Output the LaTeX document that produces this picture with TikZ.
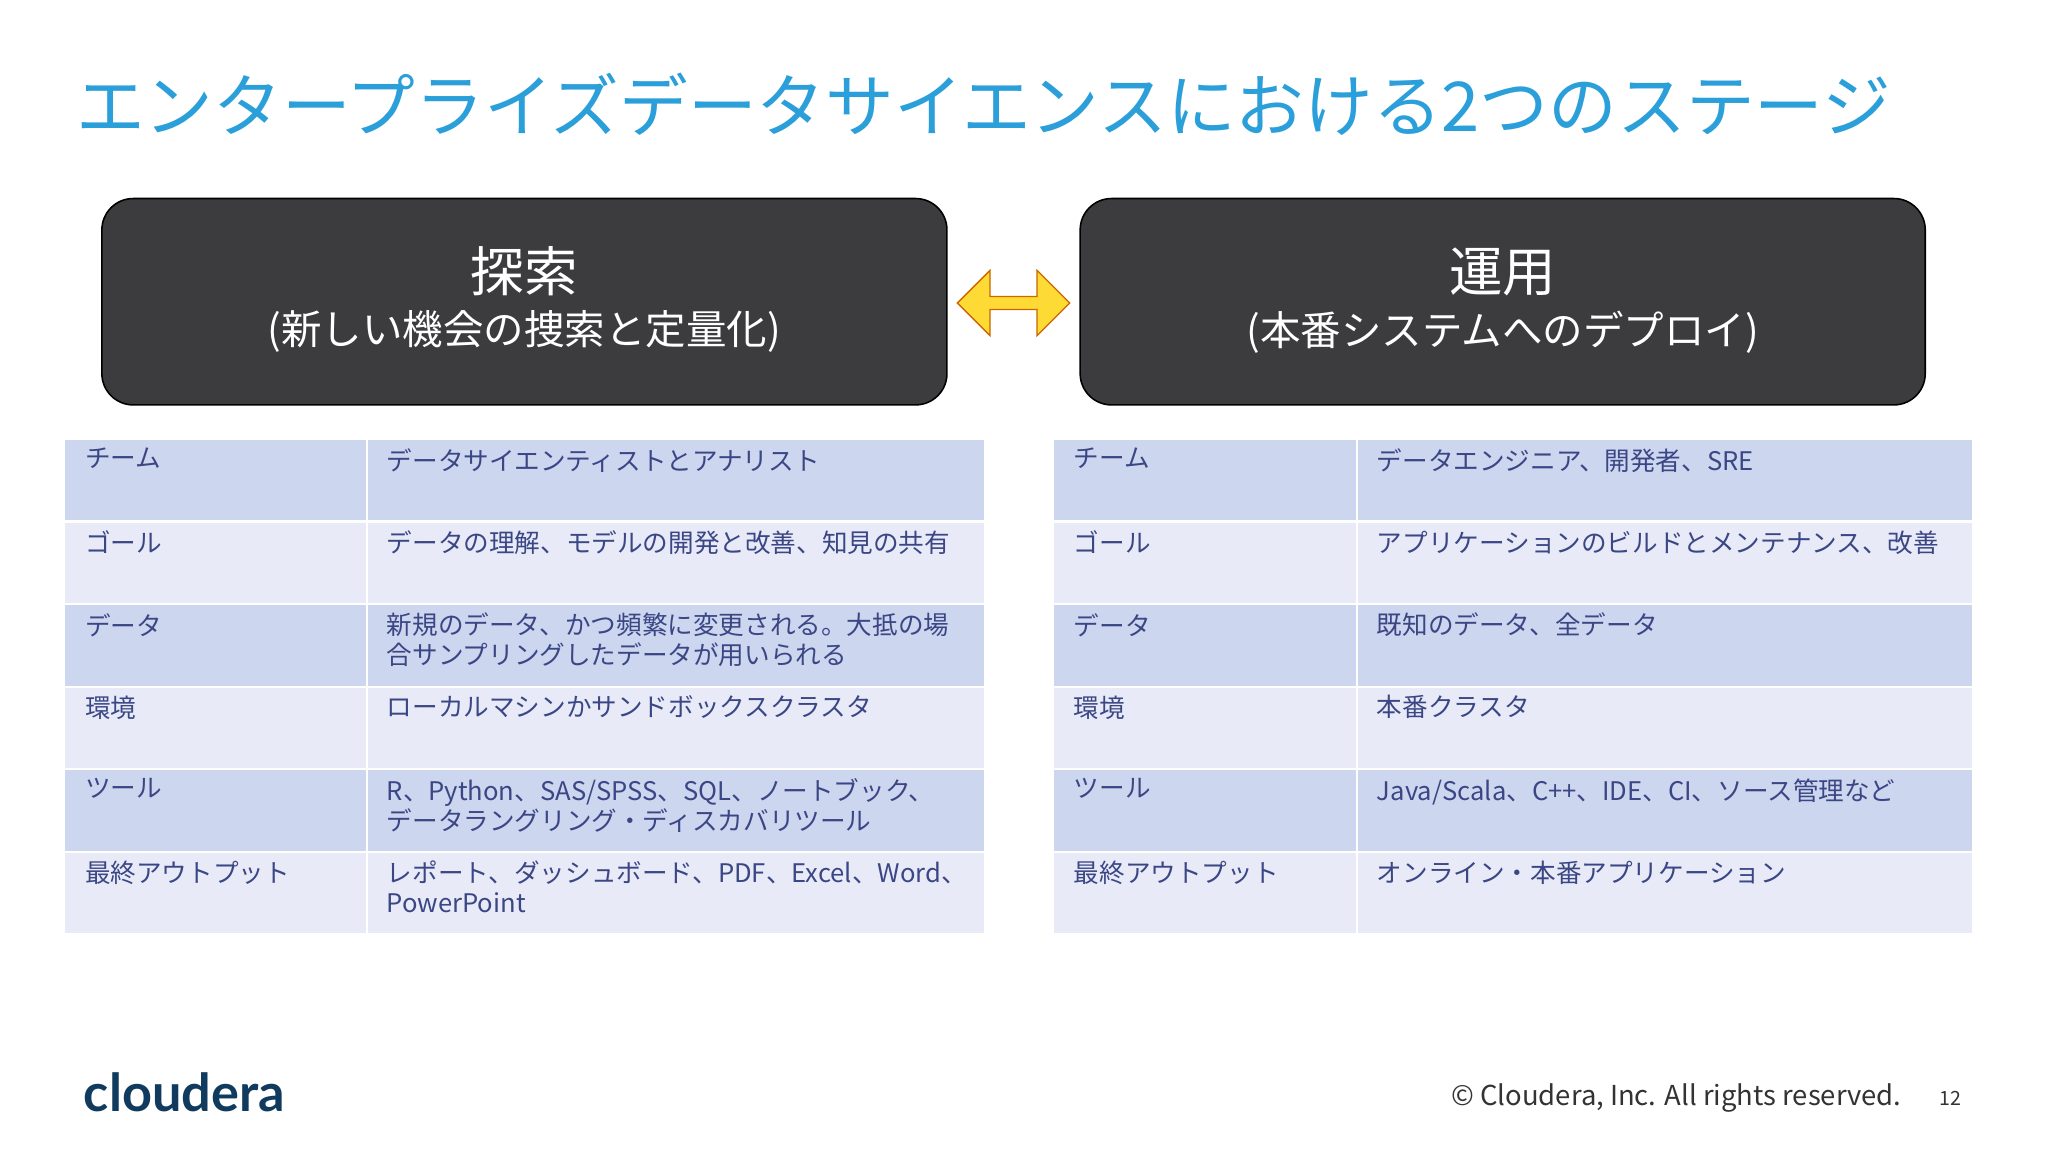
\documentclass[tikz,border=0pt]{standalone}
\usepackage{fontspec}
\setmainfont{Noto Sans CJK JP}
\newfontfamily\latf{Lato}
\usetikzlibrary{shapes.arrows}
\definecolor{ttl}{HTML}{2B9FD9}
\definecolor{dk}{HTML}{3C3B3E}
\definecolor{rowA}{HTML}{CDD6EF}
\definecolor{rowB}{HTML}{E8EBF7}
\definecolor{celltx}{HTML}{3B4785}
\definecolor{logo}{HTML}{113B5E}
\begin{document}
\begin{tikzpicture}[x=1pt,y=-1pt,
  stagebox/.style={draw=black,line width=1.2pt,fill=dk,rounded corners=24pt},
  celltext/.style={anchor=north west,text=celltx,font=\fontsize{19.6}{23}\selectfont,align=left,inner sep=0pt}]
\useasboundingbox (0,0) rectangle (1568,882);
\fill[white] (0,0) rectangle (1568,882);
\node[anchor=west,text=ttl,font=\fontsize{52.6}{58}\selectfont,inner sep=0pt] (title) at (58,80) {エンタープライズデータサイエンスにおける2つのステージ};
\draw[stagebox] (78,152) rectangle (725,310);
\draw[stagebox] (827,152) rectangle (1474,310);
\node[text=white,font=\fontsize{41}{44}\selectfont] (l1) at (401.5,208) {探索};
\node[text=white,font=\fontsize{31}{34}\selectfont] (l2) at (401.5,254) {(新しい機会の捜索と定量化)};
\node[text=white,font=\fontsize{41}{44}\selectfont] (r1) at (1150.5,208) {運用};
\node[text=white,font=\fontsize{31}{34}\selectfont] (r2) at (1150.5,254) {(本番システムへのデプロイ)};
\node[double arrow,draw=orange!80!black,fill=yellow!70!orange!80,line width=1pt,minimum width=50pt,double arrow head extend=2pt,minimum height=86pt,inner sep=0pt] (arr) at (776,232) {};
\foreach \tx/\dx/\tab in {50/280/L,807/1038/R}{
  \foreach \i in {0,...,5}{
    \pgfmathsetmacro{\ya}{337+63.2*\i}
    \pgfmathsetmacro{\yb}{\ya+61.5}
    \pgfmathtruncatemacro{\ev}{mod(\i,2)}
    \ifnum\ev=0 \def\cc{rowA}\else\def\cc{rowB}\fi
    \fill[\cc] (\tx,\ya) rectangle (\dx,\yb);
    \fill[\cc] (\dx+2,\ya) rectangle (\tx+703,\yb);
  }
}
\foreach \tx/\dx/\tab in {50/280/L,807/1038/R}{
  \foreach \t [count=\i from 0] in {チーム,ゴール,データ,環境,ツール,最終アウトプット}{
    \node[celltext] (\tab k\i) at (\tx+15,343+63.2*\i) {\t};
  }
}
\node[celltext] (Lv0) at (296,343) {データサイエンティストとアナリスト};
\node[celltext] (Lv1) at (296,406) {データの理解、モデルの開発と改善、知見の共有};
\node[celltext] (Lv2) at (296,469) {新規のデータ、かつ頻繁に変更される。大抵の場\\合サンプリングしたデータが用いられる};
\node[celltext] (Lv3) at (296,532) {ローカルマシンかサンドボックスクラスタ};
\node[celltext] (Lv4) at (296,596) {R、Python、SAS/SPSS、SQL、ノートブック、\\データラングリング・ディスカバリツール};
\node[celltext] (Lv5) at (296,659) {レポート、ダッシュボード、PDF、Excel、Word、\\PowerPoint};
\node[celltext] (Rv0) at (1054,343) {データエンジニア、開発者、SRE};
\node[celltext] (Rv1) at (1054,406) {アプリケーションのビルドとメンテナンス、改善};
\node[celltext] (Rv2) at (1054,469) {既知のデータ、全データ};
\node[celltext] (Rv3) at (1054,532) {本番クラスタ};
\node[celltext] (Rv4) at (1054,596) {Java/Scala、C++、IDE、CI、ソース管理など};
\node[celltext] (Rv5) at (1054,659) {オンライン・本番アプリケーション};
\node[anchor=west,text=logo,font=\latf\bfseries\fontsize{40}{42}\selectfont,inner sep=0pt] (logo) at (64,836) {cloudera};
\node[anchor=west,text=black!80,font=\fontsize{21}{24}\selectfont,inner sep=0pt] (copy) at (1111,841) {© Cloudera, Inc. All rights reserved.};
\node[anchor=west,text=black!80,font=\fontsize{15}{18}\selectfont,inner sep=0pt] (pg) at (1485,841) {12};
\end{tikzpicture}
\end{document}
